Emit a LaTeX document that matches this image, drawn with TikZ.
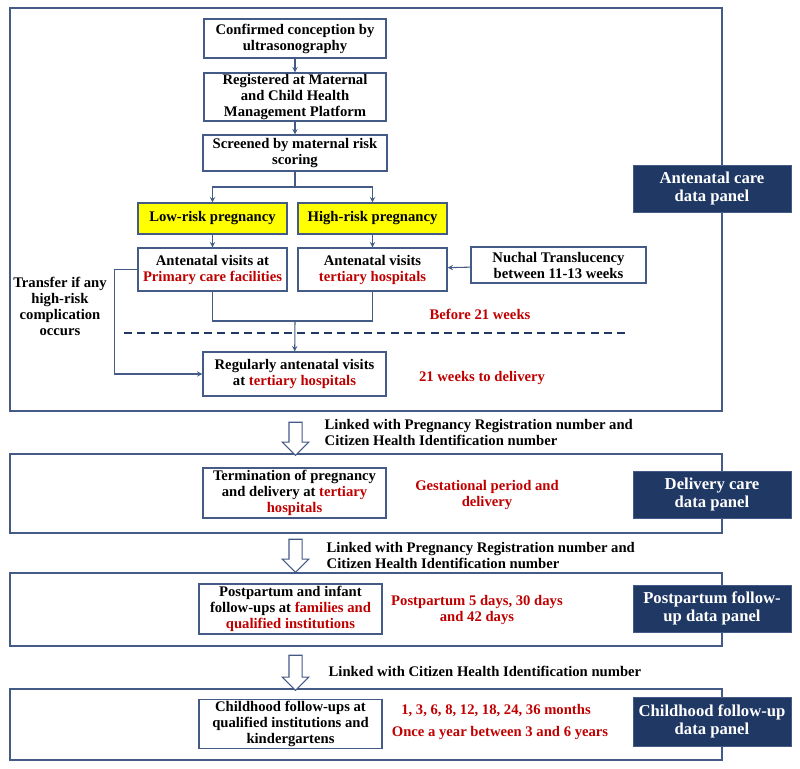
\documentclass[tikz,border=0pt]{standalone}
\usepackage{fontspec}
\setmainfont{Liberation Serif}
\usepackage{tikz}
\usetikzlibrary{arrows,shapes,positioning}
\usepackage{xcolor}
\definecolor{pnavy}{RGB}{31,56,100}
\definecolor{pline}{RGB}{68,90,135}
\definecolor{pred}{RGB}{192,0,0}
\definecolor{pyellow}{RGB}{255,255,0}
\tikzstyle{arrow} = [->,>=stealth,color=pline,line width=0.8pt]
\tikzstyle{link} = [color=pline,line width=0.8pt]
\tikzstyle{panelframe} = [draw=pline, line width=1.1pt]
\tikzstyle{stepbox} = [rectangle, draw=pline, fill=white, line width=0.9pt, align=center, inner sep=1pt]
\tikzstyle{riskbox} = [stepbox, fill=pyellow, minimum width=111.75pt, minimum height=23.25pt]
\tikzstyle{databox} = [rectangle, draw=pline, fill=pnavy, text=white, minimum width=118.5pt, minimum height=35.25pt, align=center, font=\fontsize{12.5}{14}\selectfont\bfseries]
\tikzstyle{hollow} = [single arrow, draw=pline, fill=white, line width=0.8pt, rotate=-90, minimum height=24.75pt, minimum width=18.75pt, inner sep=4.5pt, single arrow head extend=4.9pt]

\begin{document}
\begin{tikzpicture}[x=0.75pt, y=-0.75pt, font=\fontsize{11}{12}\selectfont\bfseries]
    \useasboundingbox (0,0) rectangle (800,768);

    % Panels
    \draw[panelframe] (10,8) rectangle (722,411);
    \draw[panelframe] (10,454) rectangle (722,533);
    \draw[panelframe] (10,573) rectangle (722,646);
    \draw[panelframe] (10,689) rectangle (722,760);

    % Antenatal care steps
    \node[stepbox, minimum width=136.5pt, minimum height=29.25pt] (conf) at (295,38.5) {Confirmed conception by\\ultrasonography};
    \node[stepbox, minimum width=136.5pt, minimum height=33pt] (reg) at (295,97) {Registered at Maternal\\and Child Health\\Management Platform};
    \node[stepbox, minimum width=138pt, minimum height=27pt] (scr) at (295,153) {Screened by maternal risk\\scoring};
    \node[riskbox] (low) at (212.5,218.5) {Low-risk pregnancy};
    \node[riskbox] (high) at (372.5,218.5) {High-risk pregnancy};
    \node[stepbox, minimum width=111.75pt, minimum height=32.25pt] (prim) at (212.5,269.5) {Antenatal visits at\\{\color{pred}Primary care facilities}};
    \node[stepbox, minimum width=111.75pt, minimum height=32.25pt] (tert) at (372.5,269.5) {Antenatal visits\\{\color{pred}tertiary hospitals}};
    \node[stepbox, minimum width=131.25pt, minimum height=27pt] (nt) at (558.5,265) {Nuchal Translucency\\between 11-13 weeks};
    \node[stepbox, minimum width=137.25pt, minimum height=33pt] (regvis) at (294.5,374) {Regularly antenatal visits\\at {\color{pred}tertiary hospitals}};

    % Side notes
    \node[align=center] (transfer) at (60,306) {Transfer if any\\high-risk\\complication\\occurs};
    \node[text=pred] (before) at (480,314) {Before 21 weeks};
    \node[text=pred] (after) at (482,378) {21 weeks to delivery};
    \draw[color=pnavy, line width=1.1pt, dash pattern=on 6pt off 4pt] (124,333) -- (627,333);

    % Connectors
    \coordinate (split) at (295,187);
    \coordinate (merge) at (295,321);
    \draw[arrow] (conf) -- (reg);
    \draw[arrow] (reg) -- (scr);
    \draw[link] (scr) -- (split);
    \draw[arrow] (split) -| (low.north);
    \draw[arrow] (split) -| (high.north);
    \draw[arrow] (low) -- (prim);
    \draw[arrow] (high) -- (tert);
    \draw[arrow] (nt) -- (tert);
    \draw[link] (prim.south) |- (merge) -| (tert.south);
    \draw[arrow] (merge) -- (regvis);
    \draw[arrow] (prim.west) -- ++(-23,0) |- (regvis.west);

    % Delivery care
    \node[stepbox, minimum width=137.25pt, minimum height=37.5pt] (term) at (294.5,493) {Termination of pregnancy\\and delivery at {\color{pred}tertiary}\\{\color{pred}hospitals}};
    \node[text=pred, align=center] (gest) at (487,495) {Gestational period and\\delivery};

    % Postpartum
    \node[stepbox, minimum width=137.25pt, minimum height=37.5pt] (post) at (290.5,609) {Postpartum and infant\\follow-ups at {\color{pred}families and}\\{\color{pred}qualified institutions}};
    \node[text=pred, align=center] (postdays) at (477,610) {Postpartum 5 days, 30 days\\and 42 days};

    % Childhood
    \node[stepbox, minimum width=137.25pt, minimum height=36pt] (child) at (290.5,724) {Childhood follow-ups at\\qualified institutions and\\kindergartens};
    \node[text=pred] (months) at (496,711) {1, 3, 6, 8, 12, 18, 24, 36 months};
    \node[text=pred] (yearly) at (500,733) {Once a year between 3 and 6 years};

    % Data panels
    \node[databox] (anteP) at (712,188.5) {Antenatal care\\data panel};
    \node[databox] (delivP) at (712,494.5) {Delivery care\\data panel};
    \node[databox] (postP) at (712,608.5) {Postpartum follow-\\up data panel};
    \node[databox, minimum height=36.75pt] (childP) at (712,721.5) {Childhood follow-up\\data panel};

    % Linkage arrows
    \node[hollow] (flowA) at (295.5,435.5) {};
    \node[hollow] (flowB) at (295.5,552.5) {};
    \node[hollow, minimum height=26.25pt] (flowC) at (295.5,669.5) {};
    \node[anchor=west, align=left] (linkA) at (320,432.5) {Linked with Pregnancy Registration number and\\Citizen Health Identification number};
    \node[anchor=west, align=left] (linkB) at (322,555) {Linked with Pregnancy Registration number and\\Citizen Health Identification number};
    \node[anchor=west] (linkC) at (324,671) {Linked with Citizen Health Identification number};
\end{tikzpicture}
\end{document}
